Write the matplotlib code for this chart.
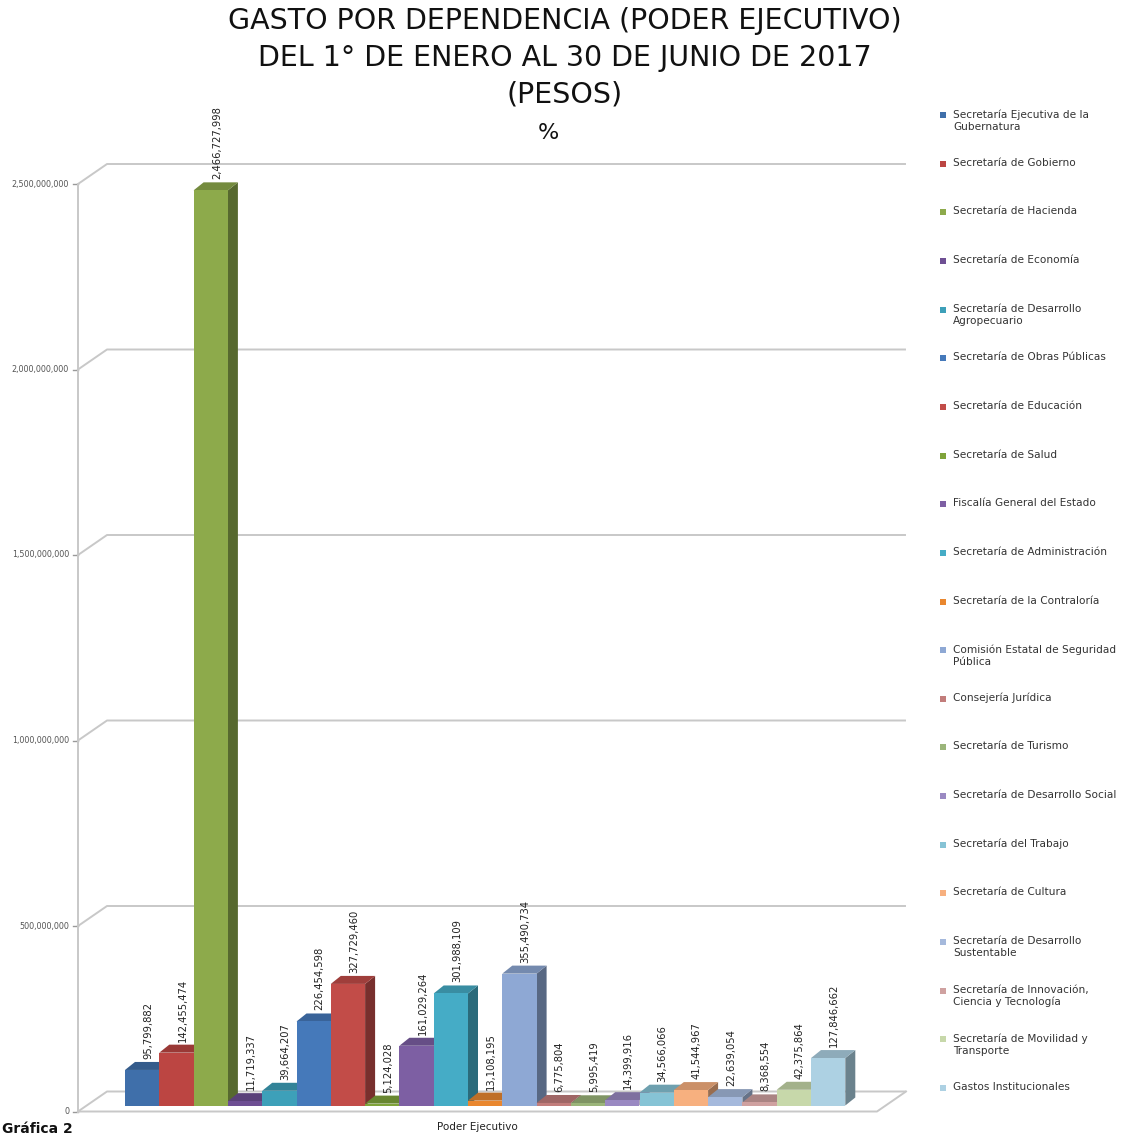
import matplotlib
matplotlib.use("Agg")
import matplotlib.pyplot as plt
from matplotlib.patches import Polygon, Rectangle

dependencias = [
    "Secretaría Ejecutiva de la\nGubernatura",
    "Secretaría de Gobierno",
    "Secretaría de Hacienda",
    "Secretaría de Economía",
    "Secretaría de Desarrollo\nAgropecuario",
    "Secretaría de Obras Públicas",
    "Secretaría de Educación",
    "Secretaría de Salud",
    "Fiscalía General del Estado",
    "Secretaría de Administración",
    "Secretaría de la Contraloría",
    "Comisión Estatal de Seguridad\nPública",
    "Consejería Jurídica",
    "Secretaría de Turismo",
    "Secretaría de Desarrollo Social",
    "Secretaría del Trabajo",
    "Secretaría de Cultura",
    "Secretaría de Desarrollo\nSustentable",
    "Secretaría de Innovación,\nCiencia y Tecnología",
    "Secretaría de Movilidad y\nTransporte",
    "Gastos Institucionales",
]
gasto = [95799882, 142455474, 2466727998, 11719337, 39664207, 226454598,
         327729460, 5124028, 161029264, 301988109, 13108195, 355490734,
         6775804, 5995419, 14399916, 34566066, 41544967, 22639054,
         8368554, 42375864, 127846662]
colores = ["#3F6FAA", "#BC4542", "#8DAA4B", "#6E4F93", "#3DA0B9", "#4579BA",
           "#C24C48", "#7FA33A", "#7D5FA3", "#45ACC6", "#E9872F", "#8EA8D4",
           "#C27D7B", "#9BB57A", "#9A89C2", "#86C3D5", "#F7B07F", "#A5B9DC",
           "#CFA1A0", "#C7D8AA", "#ADD1E3"]
y_ticks = [0, 500000000, 1000000000, 1500000000, 2000000000, 2500000000]

W, H = 1128, 1136
fig = plt.figure(figsize=(W / 100, H / 100), dpi=100)
ax = fig.add_axes([0, 0, 1, 1])

# pixel scale of the chart
x0_px, sx = 125.0, 34.3          # left of first bar, px per bar
y0_px, sy = 1105.5, 371.0 / 1e9  # bottom of bars, px per peso


def dx(px):
    return px / sx


def dy(px):
    return px / sy


ax.set_xlim(-x0_px / sx, (W - x0_px) / sx)
ax.set_ylim(-(H - y0_px) / sy, y0_px / sy)
ax.axis("off")


def shade(c, f):
    r, g, b = matplotlib.colors.to_rgb(c)
    return (r * f, g * f, b * f)


grid_c = "#C8C8C8"
# front plane of the axis sits a bit below/left of the bars plane
fx = dx(78 - x0_px)
fy = dy(6)
bx, by = dx(29), dy(20)
right_back = dx(905 - x0_px)

for v in y_ticks:
    yf = v - fy
    ax.plot([fx, fx + bx, right_back], [yf, yf + by, yf + by],
            color=grid_c, lw=1.4, zorder=1)
    ax.plot([fx - dx(5), fx], [yf, yf], color="#999999", lw=1, zorder=1)
    ax.text(fx - dx(9), yf, f"{v:,}", ha="right", va="center",
            fontsize=5.8, color="#555555")

# axis line and floor
ax.plot([fx, fx], [-fy, y_ticks[-1] - fy], color=grid_c, lw=1.4, zorder=1)
floor_r = dx(877 - x0_px)
ax.plot([fx, floor_r, floor_r + bx], [-fy, -fy, -fy + by],
        color=grid_c, lw=1.4, zorder=1)

# bars with fake depth
ddx, ddy = dx(10), dy(8)
xs = list(range(len(gasto)))
bars = ax.bar(xs, gasto, width=1.0, align="edge", color=colores,
              linewidth=0)
for i, (rect, v, c) in enumerate(zip(bars, gasto, colores)):
    rect.set_zorder(3 + 2 * i)
    side = Polygon([(i + 1, 0), (i + 1 + ddx, ddy), (i + 1 + ddx, v + ddy),
                    (i + 1, v)], closed=True, facecolor=shade(c, 0.62),
                   edgecolor="none", zorder=2 + 2 * i)
    top = Polygon([(i, v), (i + ddx, v + ddy), (i + 1 + ddx, v + ddy),
                   (i + 1, v)], closed=True, facecolor=shade(c, 0.82),
                  edgecolor="none", zorder=2 + 2 * i)
    ax.add_patch(side)
    ax.add_patch(top)
    ax.text(i + 0.5 + dx(6), v + dy(11), f"{v:,}", rotation=90,
            ha="center", va="bottom", fontsize=7.2, color="#222222",
            zorder=100)

ax.text(dx(477 - x0_px), -dy(21), "Poder Ejecutivo", ha="center",
        va="center", fontsize=7.5, color="#222222")

# title
titulo = ["GASTO POR DEPENDENCIA (PODER EJECUTIVO)",
          "DEL 1° DE ENERO AL 30 DE JUNIO DE 2017",
          "(PESOS)"]
for k, t in enumerate(titulo):
    fig.text(565 / W, 1 - (21 + 36.5 * k) / H, t, ha="center", va="center",
             fontsize=20.5, color="#111111")
fig.text(548 / W, 1 - 133 / H, "%", ha="center", va="center", fontsize=16,
         color="#111111")

# legend
for k, (lab, c) in enumerate(zip(dependencias, colores)):
    yc = 115 + 48.65 * k
    fig.add_artist(Rectangle((940 / W, 1 - (yc + 3) / H), 6 / W, 6 / H,
                             transform=fig.transFigure, facecolor=c,
                             edgecolor="none"))
    fig.text(953 / W, 1 - (yc - 6) / H, lab, ha="left", va="top",
             fontsize=7.6, color="#333333", linespacing=1.25)

fig.text(2 / W, 1 - 1122 / H, "Gráfica 2", ha="left", va="top",
         fontsize=10, fontweight="bold", color="#111111")

fig.savefig("out.png", dpi=100)
